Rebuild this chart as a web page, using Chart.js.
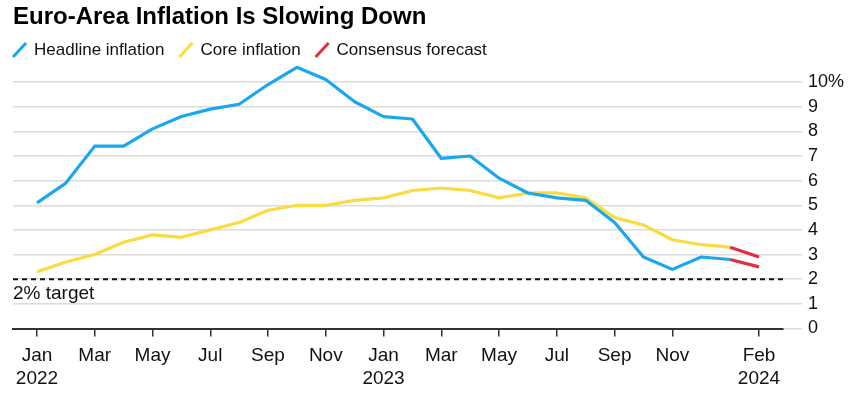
<!DOCTYPE html>
<html>
<head>
<meta charset="utf-8">
<title>Euro-Area Inflation Is Slowing Down</title>
<script src="https://cdn.jsdelivr.net/npm/chart.js@4"></script>
<style>
  html, body { margin: 0; padding: 0; background: #fff; }
  canvas { display: block; }
</style>
</head>
<body>
<canvas id="inflation" width="856" height="402"></canvas>
<script>
// Months Jan 2022 .. Feb 2024 (index 0..25)
const months = ["Jan 2022", "Feb 2022", "Mar 2022", "Apr 2022", "May 2022", "Jun 2022",
  "Jul 2022", "Aug 2022", "Sep 2022", "Oct 2022", "Nov 2022", "Dec 2022",
  "Jan 2023", "Feb 2023", "Mar 2023", "Apr 2023", "May 2023", "Jun 2023",
  "Jul 2023", "Aug 2023", "Sep 2023", "Oct 2023", "Nov 2023", "Dec 2023",
  "Jan 2024", "Feb 2024"];

// Headline and core, Jan 2022 .. Jan 2024
const headline = [5.1, 5.9, 7.4, 7.4, 8.1, 8.6, 8.9, 9.1, 9.9, 10.6, 10.1, 9.2,
  8.6, 8.5, 6.9, 7.0, 6.1, 5.5, 5.3, 5.2, 4.3, 2.9, 2.4, 2.9, 2.8];
const core = [2.3, 2.7, 3.0, 3.5, 3.8, 3.7, 4.0, 4.3, 4.8, 5.0, 5.0, 5.2,
  5.3, 5.6, 5.7, 5.6, 5.3, 5.5, 5.5, 5.3, 4.5, 4.2, 3.6, 3.4, 3.3];

// Consensus forecast, Jan 2024 -> Feb 2024
const forecastMonths = ["Jan 2024", "Feb 2024"];
const headlineForecast = [2.8, 2.5];
const coreForecast = [3.3, 2.9];

const targetRate = 2;

// axis ticks
const yTicks = [0, 1, 2, 3, 4, 5, 6, 7, 8, 9, 10];
const tickMonths = ["Jan 2022", "Mar 2022", "May 2022", "Jul 2022", "Sep 2022", "Nov 2022",
  "Jan 2023", "Mar 2023", "May 2023", "Jul 2023", "Sep 2023", "Nov 2023", "Feb 2024"];
const tickLabels = [["Jan", "2022"], "Mar", "May", "Jul", "Sep", "Nov",
  ["Jan", "2023"], "Mar", "May", "Jul", "Sep", "Nov", ["Feb", "2024"]];

const seriesNames = ["Headline inflation", "Core inflation", "Consensus forecast"];
const seriesColors = ["#1aa7ee", "#f8dc41", "#e1303f"];

const FONT = "'Liberation Sans', Arial, sans-serif";

function points(labels, values) {
  return values.map((v, i) => ({ x: months.indexOf(labels[i]), y: v }));
}

function line(label, data, color) {
  return {
    label: label,
    data: data,
    borderColor: color,
    backgroundColor: color,
    borderWidth: 3.2,
    pointRadius: 0,
    tension: 0,
    borderJoinStyle: "round",
    fill: false
  };
}

// dashed 2% line + its label
const targetLine = {
  id: "targetLine",
  beforeDatasetsDraw(chart) {
    const { ctx, chartArea, scales } = chart;
    const py = scales.y.getPixelForValue(targetRate);
    ctx.save();
    ctx.strokeStyle = "#111";
    ctx.lineWidth = 2;
    ctx.setLineDash([5, 4]);
    ctx.beginPath();
    ctx.moveTo(chartArea.left, py);
    ctx.lineTo(chartArea.right, py);
    ctx.stroke();
    ctx.setLineDash([]);
    ctx.fillStyle = "#111";
    ctx.font = "19px " + FONT;
    ctx.textBaseline = "alphabetic";
    ctx.fillText(targetRate + "% target", chartArea.left, py + 20);
    ctx.restore();
  }
};

// legend with slanted line swatches
const slashLegend = {
  id: "slashLegend",
  afterDraw(chart) {
    const ctx = chart.ctx;
    let x = chart.chartArea.left;
    const y = 50;
    ctx.save();
    ctx.font = "17px " + FONT;
    ctx.textBaseline = "middle";
    seriesNames.forEach((name, i) => {
      ctx.strokeStyle = seriesColors[i];
      ctx.lineWidth = 3;
      ctx.beginPath();
      ctx.moveTo(x, y + 7);
      ctx.lineTo(x + 13, y - 7);
      ctx.stroke();
      ctx.fillStyle = "#111";
      ctx.fillText(name, x + 21, y);
      x += 21 + ctx.measureText(name).width + 15;
    });
    ctx.restore();
  }
};

new Chart("inflation", {
  type: "line",
  data: {
    datasets: [
      line("Consensus forecast", points(forecastMonths, headlineForecast), seriesColors[2]),
      line("Consensus forecast (core)", points(forecastMonths, coreForecast), seriesColors[2]),
      line("Headline inflation", points(months, headline), seriesColors[0]),
      line("Core inflation", points(months, core), seriesColors[1])
    ]
  },
  options: {
    responsive: false,
    animation: false,
    layout: { padding: { left: 13, right: 6, top: 0, bottom: 4 } },
    plugins: {
      legend: { display: false },
      tooltip: { enabled: false },
      title: {
        display: true,
        text: "Euro-Area Inflation Is Slowing Down",
        align: "start",
        color: "#000",
        font: { family: FONT, size: 24, weight: "bold", lineHeight: 1.2 },
        padding: { top: 3, bottom: 33 }
      }
    },
    scales: {
      x: {
        type: "linear",
        min: -0.83,
        max: 25.83,
        afterBuildTicks: (scale) => {
          scale.ticks = tickMonths.map(m => ({ value: months.indexOf(m) }));
        },
        ticks: {
          autoSkip: false,
          maxRotation: 0,
          padding: 7,
          color: "#111",
          font: { family: FONT, size: 19, lineHeight: 1.25 },
          callback: (v) => tickLabels[tickMonths.indexOf(months[v])]
        },
        grid: { drawOnChartArea: false, drawTicks: true, tickLength: 8, color: "#333", lineWidth: 1.5 },
        border: { display: true, color: "#333", width: 2 }
      },
      y: {
        position: "right",
        min: 0,
        max: 10.7,
        afterBuildTicks: (scale) => {
          scale.ticks = yTicks.map(v => ({ value: v }));
        },
        ticks: {
          padding: 6,
          color: "#111",
          font: { family: FONT, size: 18 },
          callback: (v) => v === 10 ? "10%" : v
        },
        grid: {
          color: (c) => c.tick && c.tick.value === 0 ? "rgba(0,0,0,0)" : "#dcdcdc",
          tickColor: "#dcdcdc",
          lineWidth: 1.5,
          drawTicks: true,
          tickLength: 19
        },
        border: { display: false }
      }
    }
  },
  plugins: [targetLine, slashLegend]
});
</script>
</body>
</html>
